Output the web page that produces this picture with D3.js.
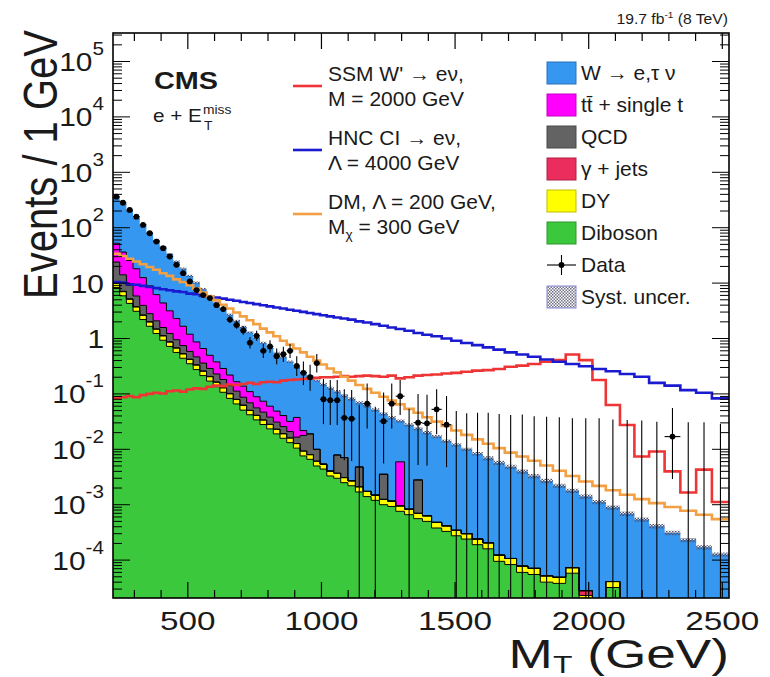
<!DOCTYPE html>
<html>
<head>
<meta charset="utf-8">
<script src="https://cdn.jsdelivr.net/npm/d3@7"></script>
<style>
  body { margin: 0; background: #fff; }
  svg { display: block; }
  text { font-family: "Liberation Sans", Arial, Helvetica, sans-serif; fill: #1a1a1a; }
</style>
</head>
<body>
<svg id="chart" width="770" height="677"></svg>
<script>
// M_T bin edges (GeV), variable width
const binEdges = [220,245,270,295,320,345,370,395,420,445,470,495,520,545,570,595,620,645,670,695,720,745,770,795,820,845,870,895,920,945,970,995,
  1020,1046,1072,1099,1127,1156,1186,1217,1248,1278,1311,1345,1378,1412,1450,1486,1523,1564,1604,1644,1686,1730,1773,1819,1866,1914,1964,2014,2064,2117,2171,2226,2284,2343,2402,2461,2525];

// backgrounds, events / GeV
const diboson = [8.3,5.9,4.3,3.1,2.2,1.66,1.23,0.93,0.72,0.56,
  0.44,0.35,0.275,0.214,0.17,0.135,0.107,0.083,0.066,0.051,
  0.042,0.034,0.028,0.0234,0.019,0.0158,0.0132,0.0105,0.0076,0.0066,
  0.005,0.0044,0.0033,0.003,0.0025,0.0022,0.0017,0.0014,0.0012,0.001,
  0.00093,0.00076,0.00066,0.00056,0.0005,0.00038,0.00033,0.000275,0.00024,0.00019,
  0.00016,0.000095,0.000083,0.00006,0.000055,0.00004,0.000038,0.000058,0,0,
  0.000032,0,0,0,0,0,0,0];
const drellYan = [1.5,1.1,0.8,0.6,0.42,0.32,0.24,0.18,0.14,0.11,
  0.085,0.068,0.055,0.042,0.034,0.027,0.021,0.017,0.013,0.011,
  0.0085,0.007,0.0058,0.0048,0.004,0.0033,0.0028,0.0022,0.0017,0.0014,
  0.0011,0.001,0.00075,0.0007,0.00058,0.0005,0.0004,0.00034,0.00029,0.00025,
  0.00023,0.00019,0.00017,0.00014,0.00013,0.0001,0.000085,0.00007,0.00006,0.00005,
  0.000045,0.000028,0.000024,0.000018,0.000016,0.000012,0.000011,0.000015,0.000023,0,
  0.000009,0,0,0,0,0,0,0];
const gammaJets = [0.17,0.12,0.09,0.06,0.04,0.03,0.025,0.02,0.015,0.011,
  0.009,0.007,0.006,0.004,0.003,0.003,0.002,0.002,0.001,0.001,
  0,0,0,0,0,0,0,0,0,0,
  0,0,0,0,0,0,0,0,0,0,
  0,0,0,0,0,0,0,0,0,0,
  0,0,0,0,0,0,0,0,0.000005,0,
  0,0,0,0,0,0,0,0];
const qcd = [14,7.0,3.9,2.1,1.3,0.8,0.59,0.45,0.355,0.27,
  0.21,0.16,0.13,0.10,0.081,0.064,0.052,0.039,0.032,0.024,
  0.0185,0.015,0.013,0.0098,0.0079,0.0066,0.0049,0.0039,0.0085,0.011,
  0.0039,0,0,0.0042,0.004,0,0.0027,0,0,0.0023,
  0,0,0,0.0021,0,0,0,0,0,0,
  0,0,0,0,0,0,0,0,0,0,
  0,0,0,0,0,0,0,0];
const ttbar = [28.5,22.2,16.6,12.3,8.6,6.1,4.1,2.8,1.93,1.34,
  0.92,0.61,0.40,0.30,0.21,0.15,0.106,0.078,0.054,0.051,
  0.041,0.033,0.027,0.022,0.018,0.015,0.011,0.021,0.004,0,
  0,0,0,0,0,0,0,0,0,0,
  0,0.005,0,0,0,0,0,0,0,0,
  0,0,0,0,0,0,0,0,0,0,
  0,0,0,0,0,0,0,0];
const wToENu = [302,233,174,130,97,72,54,40,30,22.2,
  16.5,12.3,9.3,7.1,5.39,4.09,3.18,2.47,1.92,1.48,
  1.18,0.93,0.76,0.616,0.50,0.416,0.348,0.264,0.229,0.19,
  0.164,0.1426,0.122,0.1017,0.0862,0.0786,0.0644,0.0586,0.0498,0.0401,
  0.036,0.0264,0.0267,0.0206,0.0193,0.0165,0.0137,0.0117,0.0097,0.0081,
  0.0067,0.0056,0.0047,0.0039,0.0032,0.00264,0.00214,0.00171,0.00138,0.00112,
  0.00085,0.00069,0.00054,0.00041,0.00031,0.00023,0.00017,0.000126];
// relative systematic uncertainty on the total
const systRel = [0.05,0.05,0.05,0.05,0.05,0.05,0.05,0.05,0.05,0.05,
  0.05,0.05,0.05,0.05,0.05,0.05,0.05,0.05,0.05,0.05,
  0.05,0.05,0.05,0.05,0.05,0.05,0.05,0.05,0.05,0.05,
  0.05,0.07,0.07,0.07,0.07,0.07,0.07,0.07,0.07,0.07,
  0.07,0.07,0.07,0.07,0.07,0.07,0.07,0.07,0.07,0.07,
  0.09,0.09,0.09,0.09,0.09,0.09,0.09,0.09,0.09,0.09,
  0.09,0.09,0.09,0.09,0.09,0.09,0.09,0.09];

// signals, events / GeV
const ssmWprime = [0.083,0.087,0.091,0.087,0.095,0.100,0.105,0.102,0.112,0.115,
  0.110,0.120,0.126,0.123,0.135,0.141,0.138,0.148,0.145,0.151,
  0.158,0.151,0.162,0.166,0.162,0.174,0.178,0.182,0.186,0.191,
  0.195,0.200,0.200,0.204,0.209,0.204,0.209,0.214,0.209,0.204,
  0.214,0.191,0.200,0.214,0.219,0.224,0.234,0.240,0.251,0.263,
  0.269,0.282,0.309,0.324,0.347,0.380,0.407,0.513,0.407,0.178,
  0.063,0.0275,0.0074,0.0091,0.004,0.00166,0.0043,0.00112];
const hncCI = [10.5,10.2,9.55,9.33,8.91,8.51,8.13,7.76,7.41,7.08,
  6.92,6.46,6.31,5.89,5.75,5.50,5.25,5.01,4.79,4.57,
  4.37,4.17,3.98,3.80,3.63,3.47,3.31,3.16,3.02,2.88,
  2.75,2.63,2.51,2.40,2.29,2.19,2.04,1.95,1.82,1.70,
  1.58,1.48,1.38,1.26,1.17,1.10,1.00,0.912,0.832,0.759,
  0.692,0.631,0.562,0.513,0.468,0.417,0.380,0.347,0.316,0.282,
  0.257,0.229,0.204,0.158,0.141,0.117,0.105,0.083];
const darkMatter = [33.9,30.9,27.5,24.5,21.9,19.5,17.4,15.1,13.5,11.7,
  10.5,9.12,7.94,6.76,5.75,4.90,4.07,3.47,2.95,2.51,
  2.14,1.82,1.51,1.29,1.10,0.912,0.776,0.661,0.562,0.468,
  0.398,0.339,0.288,0.245,0.204,0.174,0.145,0.123,0.105,0.0891,
  0.0759,0.0646,0.0537,0.0457,0.038,0.0316,0.0263,0.0219,0.0182,0.0151,
  0.0126,0.0105,0.0087,0.0074,0.0062,0.0051,0.0041,0.0033,0.00263,0.00219,
  0.00182,0.00151,0.00126,0.00107,0.00091,0.00078,0.00066,0.00055];

// observed events per bin
const dataCounts = [9080,7050,5225,3960,2805,1985,1405,1067,755,535,
  378,268,187,152,134,100,85,55,44,35,
  21,28,15,18,12,13,15,8,6,5,
  9,2,2,2,1,1,0,2,0,1,
  2,3,0,1,1,2,1,0,0,0,
  0,0,0,0,0,0,0,0,0,0,
  0,0,0,0,1,0,0,0];

const xTickLabels = [500, 1000, 1500, 2000, 2500];
const yLabelPowers = [-4, -3, -2, -1, 0, 1, 2, 3, 4, 5];

const bkgKeys = ["diboson", "dy", "gjets", "qcd", "ttbar", "wenu"];
const bkgColors = { diboson: "#3cc83c", dy: "#ffff00", gjets: "#ea2d5c", qcd: "#636363", ttbar: "#ff00ff", wenu: "#3597f0" };

// ---------- setup ----------
const frame = { left: 113, right: 729, top: 33, bottom: 598 };
const svg = d3.select("#chart");

const x = d3.scaleLinear().domain([220, 2525]).range([frame.left, frame.right]);
const y = d3.scaleLog().domain([2.07e-5, 3.27e5]).range([frame.bottom, frame.top]);
const yc = v => (v > y.domain()[0] ? y(v) : frame.bottom + 6);

const bins = d3.pairs(binEdges).map(([x0, x1], i) => ({ x0, x1, i }));

const defs = svg.append("defs");
defs.append("clipPath").attr("id", "plotClip")
  .append("rect").attr("x", frame.left).attr("y", frame.top)
  .attr("width", frame.right - frame.left).attr("height", frame.bottom - frame.top);

const pat = defs.append("pattern").attr("id", "systHatch")
  .attr("width", 3).attr("height", 3).attr("patternUnits", "userSpaceOnUse");
pat.append("rect").attr("width", 1.5).attr("height", 1.5).attr("fill", "#4e4e6a");
pat.append("rect").attr("x", 1.5).attr("y", 1.5).attr("width", 1.5).attr("height", 1.5).attr("fill", "#4e4e6a");

const plot = svg.append("g").attr("clip-path", "url(#plotClip)");

// ---------- stacked backgrounds ----------
const rows = bins.map(b => ({
  diboson: diboson[b.i], dy: drellYan[b.i], gjets: gammaJets[b.i],
  qcd: qcd[b.i], ttbar: ttbar[b.i], wenu: wToENu[b.i]
}));
const layers = d3.stack().keys(bkgKeys)(rows);

function stepPoints(lo, hi) {
  const pts = [];
  bins.forEach(b => {
    pts.push({ x: x(b.x0), lo: lo[b.i], hi: hi[b.i] });
    pts.push({ x: x(b.x1), lo: lo[b.i], hi: hi[b.i] });
  });
  return pts;
}
const area = d3.area().x(d => d.x).y0(d => yc(d.lo)).y1(d => yc(d.hi));
const stepLine = d3.line().x(d => d.x).y(d => yc(d.hi));

layers.forEach(layer => {
  const pts = stepPoints(layer.map(d => d[0]), layer.map(d => d[1]));
  plot.append("path").attr("d", area(pts)).attr("fill", bkgColors[layer.key]);
});
// black outlines on top of each stacked component except W
layers.filter(l => l.key !== "wenu").forEach(layer => {
  const pts = stepPoints(layer.map(d => d[0]), layer.map(d => d[1]));
  plot.append("path").attr("d", stepLine(pts))
    .attr("fill", "none").attr("stroke", "#000").attr("stroke-width", 1);
});

// systematic band on total
const total = layers[layers.length - 1].map(d => d[1]);
const systPts = stepPoints(total.map((t, i) => t * (1 - systRel[i])), total.map((t, i) => t * (1 + systRel[i])));
plot.append("path").attr("d", area(systPts)).attr("fill", "url(#systHatch)");

// ---------- signals ----------
const signals = [
  { vals: ssmWprime, color: "#ee3434" },
  { vals: hncCI, color: "#1a1ad0" },
  { vals: darkMatter, color: "#f2a043" }
];
signals.forEach(s => {
  const pts = stepPoints(s.vals, s.vals);
  plot.append("path").attr("d", stepLine(pts))
    .attr("fill", "none").attr("stroke", s.color).attr("stroke-width", 2.6);
});

// ---------- data ----------
// approximate Garwood (Poisson 68%) interval
const poisLo = n => (n === 0 ? 0 : n * Math.pow(1 - 1 / (9 * n) - 1 / (3 * Math.sqrt(n)), 3));
const poisHi = n => (n + 1) * Math.pow(1 - 1 / (9 * (n + 1)) + 1 / (3 * Math.sqrt(n + 1)), 3);

const dataG = plot.append("g");
bins.forEach(b => {
  const n = dataCounts[b.i], w = b.x1 - b.x0;
  const xc = x((b.x0 + b.x1) / 2);
  const hi = poisHi(n) / w, lo = poisLo(n) / w;
  dataG.append("line").attr("x1", xc).attr("x2", xc).attr("y1", yc(lo)).attr("y2", yc(hi))
    .attr("stroke", "#000").attr("stroke-width", 1.1);
  if (n > 0) {
    const v = n / w;
    dataG.append("line").attr("x1", x(b.x0)).attr("x2", x(b.x1)).attr("y1", y(v)).attr("y2", y(v))
      .attr("stroke", "#000").attr("stroke-width", 1.1);
    dataG.append("circle").attr("cx", xc).attr("cy", y(v)).attr("r", 2.9).attr("fill", "#000");
  }
});

// ---------- axes (ROOT style, ticks inside) ----------
const axes = svg.append("g").attr("stroke", "#000");
axes.append("rect").attr("x", frame.left).attr("y", frame.top)
  .attr("width", frame.right - frame.left).attr("height", frame.bottom - frame.top)
  .attr("fill", "none").attr("stroke-width", 1.6);

d3.range(300, 2501, 100).forEach(v => {
  const len = v % 500 === 0 ? 16 : 8;
  axes.append("line").attr("x1", x(v)).attr("x2", x(v)).attr("y1", frame.bottom).attr("y2", frame.bottom - len).attr("stroke-width", 1.2);
  axes.append("line").attr("x1", x(v)).attr("x2", x(v)).attr("y1", frame.top).attr("y2", frame.top + len).attr("stroke-width", 1.2);
});
d3.range(-5, 6).forEach(e => {
  d3.range(1, 10).forEach(m => {
    const v = m * Math.pow(10, e);
    if (v < y.domain()[0] || v > y.domain()[1]) return;
    const len = m === 1 ? 17 : 9;
    axes.append("line").attr("x1", frame.left).attr("x2", frame.left + len).attr("y1", y(v)).attr("y2", y(v)).attr("stroke-width", 1);
    axes.append("line").attr("x1", frame.right).attr("x2", frame.right - len).attr("y1", y(v)).attr("y2", y(v)).attr("stroke-width", 1);
  });
});

// ---------- text ----------
function addText(px, py, size, sx, anchor, rotate) {
  return svg.append("text")
    .attr("transform", `translate(${px},${py}) scale(${sx},1)` + (rotate ? ` rotate(${rotate})` : ""))
    .attr("font-size", size).attr("text-anchor", anchor || "start");
}

xTickLabels.forEach(v => {
  addText(x(v), 630, 26, 1.28, "middle").text(v);
});
yLabelPowers.forEach(p => {
  const t = addText(104, y(Math.pow(10, p)) + 9.5, 26, 1.15, "end");
  if (p === 0) t.text("1");
  else if (p === 1) t.text("10");
  else {
    t.append("tspan").text("10");
    t.append("tspan").attr("font-size", 18).attr("dy", -16).text(p < 0 ? "-" + (-p) : String(p));
  }
});

addText(57, 30, 40, 1.22, "end", -90).text("Events / 1 GeV");

const xt = addText(729, 668, 40, 1.33, "end");
xt.append("tspan").text("M");
xt.append("tspan").attr("font-size", 24).attr("dy", 5).text("T");
xt.append("tspan").attr("dy", -5).text(" (GeV)");

const lumi = addText(728, 24, 14, 1.12, "end");
lumi.append("tspan").text("19.7 fb");
lumi.append("tspan").attr("font-size", 9).attr("dy", -6).text("-1");
lumi.append("tspan").attr("dy", 6).text(" (8 TeV)");

addText(154, 89, 24, 1.2, "start").attr("font-weight", "bold").text("CMS");
const chan = addText(153, 122, 18, 1.15, "start");
chan.append("tspan").text("e + E");
addText(203, 114, 12, 1.15, "start").text("miss");
addText(204, 130, 12, 1.15, "start").text("T");

// signal legend
const sigLegend = [
  { y: 86, color: "#ee3434", l1: "SSM W' \u2192 e\u03bd,", l2: ["M = 2000 GeV"] },
  { y: 150, color: "#1a1ad0", l1: "HNC CI \u2192 e\u03bd,", l2: ["\u039b = 4000 GeV"] },
  { y: 214, color: "#f2a043", l1: "DM, \u039b = 200 GeV,", l2: ["M", "\u03c7", " = 300 GeV"] }
];
sigLegend.forEach(e => {
  svg.append("line").attr("x1", 293).attr("x2", 322).attr("y1", e.y).attr("y2", e.y)
    .attr("stroke", e.color).attr("stroke-width", 2.6);
  addText(328, e.y - 5, 20, 1.05).text(e.l1);
  const t2 = addText(328, e.y + 20, 20, 1.05);
  if (e.l2.length === 1) t2.text(e.l2[0]);
  else {
    t2.append("tspan").text(e.l2[0]);
    t2.append("tspan").attr("font-size", 13).attr("dy", 5).text(e.l2[1]);
    t2.append("tspan").attr("dy", -5).text(e.l2[2]);
  }
});

// background legend
const bkgLegend = [
  { key: "wenu", label: "W \u2192 e,\u03c4 \u03bd" },
  { key: "ttbar", label: "tt\u0304 + single t" },
  { key: "qcd", label: "QCD" },
  { key: "gjets", label: "\u03b3 + jets" },
  { key: "dy", label: "DY" },
  { key: "diboson", label: "Diboson" },
  { key: "data", label: "Data" },
  { key: "syst", label: "Syst. uncer." }
];
bkgLegend.forEach((e, i) => {
  const cy = 73 + i * 32;
  if (e.key === "data") {
    svg.append("line").attr("x1", 547).attr("x2", 576).attr("y1", cy).attr("y2", cy).attr("stroke", "#000").attr("stroke-width", 1.1);
    svg.append("line").attr("x1", 561.5).attr("x2", 561.5).attr("y1", cy - 10).attr("y2", cy + 10).attr("stroke", "#000").attr("stroke-width", 1.1);
    svg.append("circle").attr("cx", 561.5).attr("cy", cy).attr("r", 2.9).attr("fill", "#000");
  } else if (e.key === "syst") {
    svg.append("rect").attr("x", 547).attr("y", cy - 11).attr("width", 29).attr("height", 22)
      .attr("fill", "url(#systHatch)").attr("stroke", "#6a6ad0").attr("stroke-width", 1).attr("opacity", 0.8);
  } else {
    svg.append("rect").attr("x", 547).attr("y", cy - 11).attr("width", 29).attr("height", 22)
      .attr("fill", bkgColors[e.key]).attr("stroke", d3.color(bkgColors[e.key]).darker(0.8)).attr("stroke-width", 1);
  }
  addText(581, cy + 7, 20, 1.05).text(e.label);
});
</script>
</body>
</html>
